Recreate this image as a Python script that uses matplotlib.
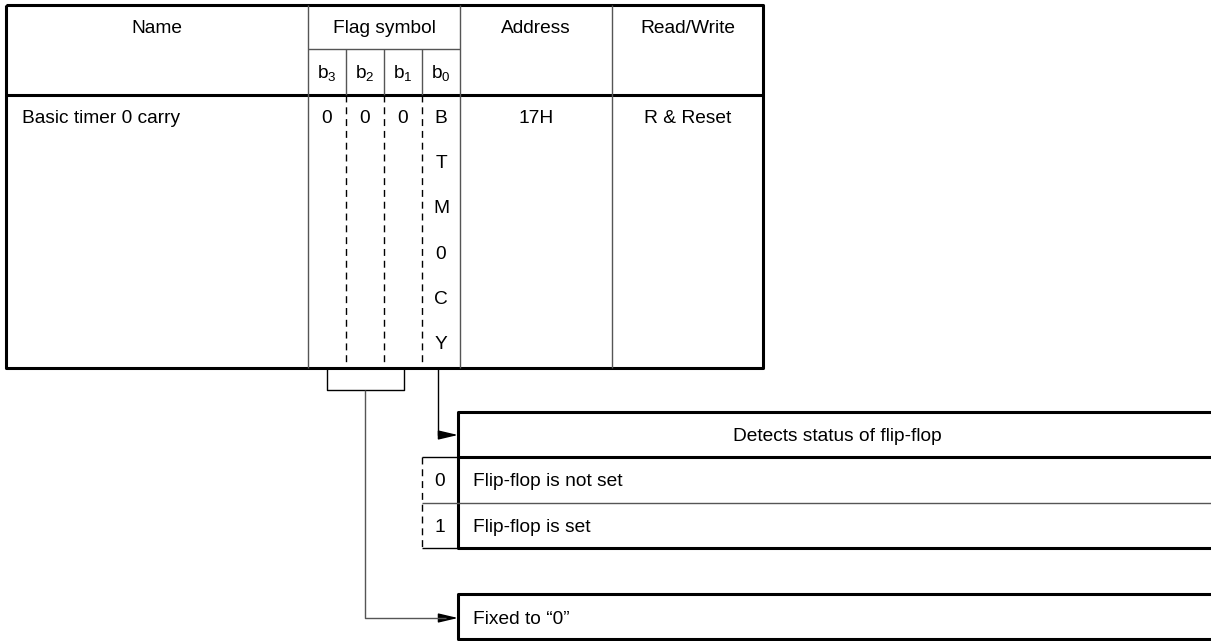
import matplotlib.pyplot as plt
from matplotlib.patches import FancyArrowPatch

plt.rcParams['font.family'] = ['Liberation Sans', 'DejaVu Sans']
plt.rcParams['mathtext.fontset'] = 'custom'
plt.rcParams['mathtext.rm'] = 'Liberation Sans'

# table contents
header_cols = ['Name', 'Flag symbol', 'Address', 'Read/Write']
bit_labels = ['3', '2', '1', '0']
flag_name = 'Basic timer 0 carry'
fixed_bits = ['0', '0', '0']
symbol_letters = ['B', 'T', 'M', '0', 'C', 'Y']
address = '17H'
read_write = 'R & Reset'

# description boxes
status_title = 'Detects status of flip-flop'
status_values = ['0', '1']
status_texts = ['Flip-flop is not set', 'Flip-flop is set']
fixed_text = 'Fixed to \u201c0\u201d'

W, H = 1211, 641
fig = plt.figure(figsize=(W / 100, H / 100), dpi=100)
ax = fig.add_axes([0, 0, 1, 1])
ax.set_xlim(0, W)
ax.set_ylim(H, 0)
ax.axis('off')

FS = 13.8
THICK = 2.2
THIN = 1.0
GRAY = '#555555'
DY = 1.5  # small downward nudge for text

col_x = [6, 308, 346, 384, 422, 460, 612, 763]
top, row1, row2, bottom = 5, 49, 95, 368


def line(xs, ys, lw=THIN, c=GRAY, ls='-'):
    ax.plot(xs, ys, color=c, lw=lw, ls=ls, solid_capstyle='butt',
            dash_capstyle='butt')


def txt(x, y, s, ha='center'):
    ax.text(x, y + DY, s, ha=ha, va='center', fontsize=FS)


# outer frame
line([col_x[0], col_x[-1], col_x[-1], col_x[0], col_x[0]],
     [top, top, bottom, bottom, top], lw=THICK, c='black')
line([col_x[0], col_x[-1]], [row2, row2], lw=THICK, c='black')
line([col_x[1], col_x[5]], [row1, row1])
for x in [col_x[1], col_x[5], col_x[6]]:
    line([x, x], [top, bottom])
for x in col_x[2:5]:
    line([x, x], [row1, row2])
    line([x, x], [row2, bottom], c='black', ls=(0, (5, 3.5)))

# headers
txt((col_x[0] + col_x[1]) / 2, 27, header_cols[0])
txt((col_x[1] + col_x[5]) / 2, 27, header_cols[1])
txt((col_x[5] + col_x[6]) / 2, 27, header_cols[2])
txt((col_x[6] + col_x[7]) / 2, 27, header_cols[3])
for i, b in enumerate(bit_labels):
    cx = (col_x[1 + i] + col_x[2 + i]) / 2
    txt(cx, 72, r'$\mathrm{b}_{\mathrm{%s}}$' % b)

# data row
row_y = 117
row_step = 45.2
txt(22, row_y, flag_name, ha='left')
for i, v in enumerate(fixed_bits):
    txt((col_x[1 + i] + col_x[2 + i]) / 2, row_y, v)
for j, ch in enumerate(symbol_letters):
    txt((col_x[4] + col_x[5]) / 2, row_y + j * row_step, ch)
txt((col_x[5] + col_x[6]) / 2, row_y, address)
txt((col_x[6] + col_x[7]) / 2, row_y, read_write)

# bracket under b3..b1
line([327, 327, 404, 404], [bottom, 390, 390, bottom], c='black')


def arrow(x0, y0, x1, y1):
    ax.add_patch(FancyArrowPatch((x0, y0), (x1, y1),
                                 arrowstyle='-|>,head_length=0.85,head_width=0.2',
                                 mutation_scale=14, color='black', lw=THIN,
                                 shrinkA=0, shrinkB=0))


# b0 arrow to status box
line([438, 438, 446], [bottom, 435, 435], c='black')
arrow(444, 435, 458, 435)

# bracket arrow to fixed box
line([365, 365, 446], [390, 618, 618], c=GRAY)
arrow(444, 618, 458, 618)

# status box
bx0, bx1 = 458, W + 5
s_top, s_hdr, s_mid, s_bot = 412, 457, 503, 548
line([bx1, bx0, bx0, bx1], [s_top, s_top, s_bot, s_bot], lw=THICK, c='black')
line([bx0, bx1], [s_hdr, s_hdr], lw=THICK, c='black')
line([422, bx1], [s_mid, s_mid])
line([422, bx0], [s_hdr, s_hdr], c='black')
line([422, bx0], [s_bot, s_bot], c='black')
line([422, 422], [s_hdr, s_bot], c='black', ls=(0, (5, 3.5)))
txt(837, 435, status_title)
for k, (v, t) in enumerate(zip(status_values, status_texts)):
    yc = (s_hdr + s_mid) / 2 + k * (s_mid - s_hdr)
    txt(440, yc, v)
    txt(473, yc, t, ha='left')

# fixed box
f_top, f_bot = 594, 639
line([bx1, bx0, bx0, bx1], [f_top, f_top, f_bot, f_bot], lw=THICK, c='black')
txt(473, 618, fixed_text, ha='left')

fig.savefig('out.png', dpi=100, facecolor='white')
